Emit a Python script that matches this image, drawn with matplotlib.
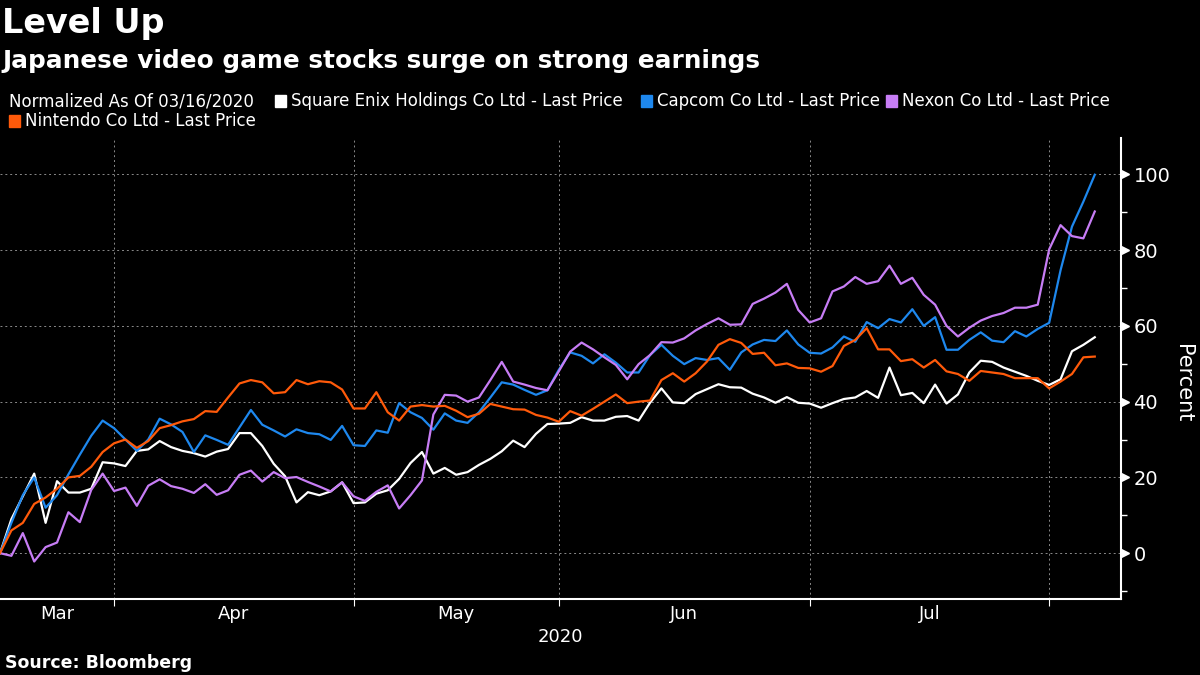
import matplotlib
matplotlib.use("Agg")
import matplotlib.pyplot as plt
from matplotlib.patches import Rectangle
import matplotlib.transforms as mtransforms
import numpy as np
import pandas as pd

# Tokyo trading days, 03/16/2020 .. 08/06/2020
jp_holidays = ["2020-03-20", "2020-04-29", "2020-05-04", "2020-05-05",
               "2020-05-06", "2020-07-23", "2020-07-24"]
dates = pd.bdate_range("2020-03-16", "2020-08-06", freq="C", holidays=jp_holidays)

square_enix = [0, 9, 15, 21, 8, 19, 16, 16, 17, 24, 23.7, 23, 27, 27.4, 29.6, 28, 27, 26.4,
               25.5, 26.8, 27.5, 31.7, 31.7, 28.3, 23.6, 20.3, 13.4, 16.1, 15.3, 16.3, 18.7, 13.2,
               13.4, 15.7, 16.6, 19.6, 23.8, 26.7, 21, 22.5, 20.7, 21.4, 23.3, 24.9, 26.9, 29.7,
               28, 31.5, 34.1, 34.2, 34.4, 35.9, 35, 35, 36, 36.2, 35, 39.7, 43.5, 39.8, 39.6,
               42, 43.3, 44.6, 43.8, 43.7, 42.1, 41.1, 39.7, 41.2, 39.7, 39.5, 38.4, 39.6, 40.7,
               41.1, 42.8, 41, 49, 41.7, 42.3, 39.6, 44.5, 39.5, 41.9, 47.7, 50.8, 50.5, 49,
               47.9, 46.8, 45.5, 44.4, 45.9, 53.3, 55, 57]
capcom = [0, 8, 15.3, 20, 12, 15.3, 20.8, 26, 31, 35, 33, 30, 27, 30, 35.5, 34, 32, 26.7,
          31.1, 29.9, 28.6, 33.2, 37.8, 33.9, 32.4, 30.8, 32.7, 31.7, 31.4, 29.9, 33.6, 28.5,
          28.3, 32.4, 31.8, 39.6, 37.2, 35.7, 32.6, 36.9, 35, 34.4, 37.2, 41.1, 45.1, 44.5,
          43.1, 41.8, 43, 48.4, 53, 52.1, 50.1, 52.5, 50.3, 47.7, 47.7, 52.3, 55, 52.1, 49.9,
          51.5, 51, 51.5, 48.4, 53, 55.1, 56.3, 56, 58.8, 55.1, 52.9, 52.7, 54.3, 57.2, 55.8,
          61, 59.4, 61.8, 60.9, 64.4, 60, 62.3, 53.7, 53.7, 56.3, 58.3, 56.1, 55.7, 58.6,
          57.2, 59.2, 60.8, 74.7, 86.2, 92.8, 99.9]
nexon = [0, -0.7, 5.3, -2.2, 1.6, 2.8, 10.8, 8.2, 16.7, 21, 16.4, 17.3, 12.5, 17.8, 19.5,
         17.7, 17, 15.9, 18.2, 15.4, 16.6, 20.7, 21.8, 18.9, 21.4, 19.8, 20.1, 18.8, 17.6,
         16.3, 18.7, 15, 13.8, 16.2, 17.9, 11.8, 15.3, 19.2, 36.6, 41.8, 41.6, 40, 41.1,
         45.7, 50.5, 45.3, 44.5, 43.6, 43, 48, 53.2, 55.6, 53.8, 51.7, 49.7, 45.9, 49.9,
         52.3, 55.7, 55.6, 56.7, 58.8, 60.5, 62, 60.3, 60.4, 65.8, 67.2, 68.8, 71.1, 64.2,
         60.9, 62, 69.1, 70.4, 72.9, 71.1, 71.8, 75.9, 71.1, 72.7, 68.2, 65.6, 60, 57.2,
         59.5, 61.4, 62.6, 63.4, 64.8, 64.8, 65.6, 80.2, 86.6, 83.7, 83.1, 90.2]
nintendo = [0, 6, 8, 13, 14.7, 17, 20, 20.4, 22.8, 26.7, 29, 30, 27.8, 29.6, 33, 33.8, 34.8,
            35.4, 37.5, 37.3, 41.1, 44.8, 45.7, 45.1, 42.2, 42.5, 45.7, 44.6, 45.4, 45.1,
            43.2, 38.2, 38.2, 42.5, 37.2, 35, 38.7, 39.1, 38.7, 38.9, 37.6, 35.9, 36.8, 39.4,
            38.7, 38, 37.9, 36.5, 35.8, 34.7, 37.5, 36.3, 38.1, 40, 41.9, 39.6, 40, 40.3,
            45.7, 47.5, 45.3, 47.5, 50.6, 55, 56.5, 55.5, 52.6, 52.9, 49.6, 50.1, 48.9, 48.8,
            47.9, 49.4, 54.7, 56.3, 59.4, 53.8, 53.8, 50.7, 51.2, 49, 51, 48, 47.3, 45.5,
            48.1, 47.7, 47.3, 46.2, 46.2, 46.2, 43.5, 45.3, 47.3, 51.7, 51.9]

names = ["Square Enix Holdings Co Ltd - Last Price", "Capcom Co Ltd - Last Price",
         "Nexon Co Ltd - Last Price", "Nintendo Co Ltd - Last Price"]
colors = ["#ffffff", "#1e88ee", "#c77df5", "#ff5a0a"]
series = [square_enix, capcom, nexon, nintendo]

plt.rcParams['font.family'] = ['DejaVu Sans']

fig = plt.figure(figsize=(12, 6.75), dpi=100, facecolor="black")
ax = fig.add_axes([0, 1 - 599 / 675, 1121 / 1200, (599 - 138) / 675])
ax.set_facecolor("black")

x = np.arange(len(dates))
for vals, c in zip(series, colors):
    ax.plot(x, vals, color=c, lw=1.6)

# month boundaries = last trading day of each month
month = dates.month
ends = [i for i in range(len(dates) - 1) if month[i] != month[i + 1]]
starts = [0] + [e for e in ends]
mids = [(a + b) / 2 for a, b in zip(starts, ends)]
labels = [dates[e].strftime("%b") for e in ends]

ax.set_xlim(0, 98.3)
ax.set_ylim(-12.1, 109.6)

ax.set_xticks(ends)
ax.set_xticklabels([])
ax.set_xticks(mids, minor=True)
ax.set_xticklabels(labels, minor=True)
ax.tick_params(axis="x", which="major", length=5, color="white", width=0.8)
ax.tick_params(axis="x", which="minor", length=0, colors="white", labelsize=13, pad=4)

ax.yaxis.tick_right()
ax.set_yticks(range(0, 101, 20))
ax.set_yticks(range(-10, 101, 20), minor=True)
ax.tick_params(axis="y", which="major", length=0, colors="white", labelsize=14, pad=9)
ax.tick_params(axis="y", which="minor", length=4, color="white", width=1, labelright=False)
trans = mtransforms.blended_transform_factory(ax.transAxes, ax.transData)
ax.plot([1.004] * 6, range(0, 101, 20), ls="none", marker=">", ms=6, color="white",
        transform=trans, clip_on=False)

ax.grid(True, which="major", color="#8a8a8a", ls=(0, (2, 3)), lw=0.7)
for s in ["top", "left"]:
    ax.spines[s].set_visible(False)
for s in ["bottom", "right"]:
    ax.spines[s].set_color("white")
    ax.spines[s].set_linewidth(1.5)

fig.text(1183 / 1200, 1 - 383 / 675, "Percent", color="white", fontsize=15, rotation=270,
         ha="center", va="center")

fig.text(560 / 1200, 1 - 637 / 675, "2020", color="white", fontsize=13, ha="center", va="center")

fig.text(0.002, 1 - 24 / 675, "Level Up", color="white", fontsize=24, fontweight="bold",
         va="center", ha="left")
fig.text(0.002, 1 - 61 / 675, "Japanese video game stocks surge on strong earnings",
         color="white", fontsize=17.8, fontweight="bold", va="center", ha="left")
fig.text(5 / 1200, 1 - 663 / 675, "Source: Bloomberg", color="white", fontsize=12.5,
         fontweight="bold", va="center", ha="left")

# legend row
fig.text(9 / 1200, 1 - 101 / 675, "Normalized As Of 03/16/2020", color="white", fontsize=12,
         va="center", ha="left")
leg_pos = [(275, 101), (641, 101), (886, 101), (9, 121)]
for (px, py), name, c in zip(leg_pos, names, colors):
    fig.patches.append(Rectangle((px / 1200, 1 - (py + 6) / 675), 11 / 1200, 12 / 675,
                                 transform=fig.transFigure, color=c))
    fig.text((px + 16) / 1200, 1 - py / 675, name, color="white", fontsize=12,
             va="center", ha="left")

fig.savefig("out.png", dpi=100, facecolor="black")
